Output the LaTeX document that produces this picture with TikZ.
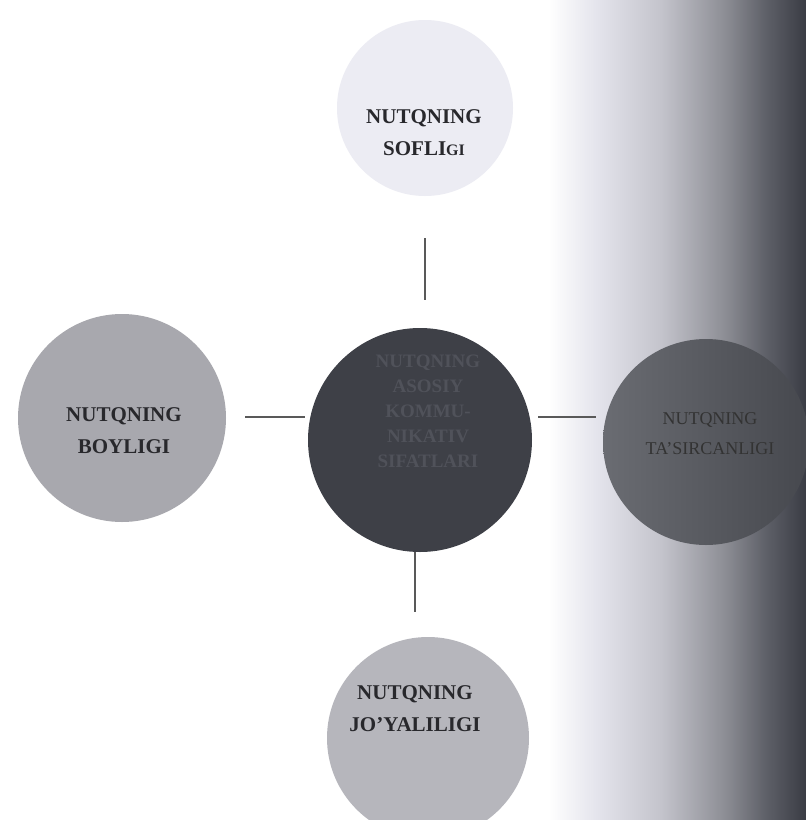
\documentclass[tikz,border=0pt]{standalone}
\usepackage{fontspec}
\setmainfont{Liberation Serif}
\usepackage{tikz}
\usetikzlibrary{calc,positioning}
\usepackage{xcolor}
\definecolor{softgray}{RGB}{236,236,243}
\definecolor{midgray}{RGB}{168,168,174}
\definecolor{lightgray}{RGB}{182,182,188}
\definecolor{coregray}{RGB}{62,64,71}
\definecolor{coretext}{RGB}{80,82,90}
\definecolor{inkgray}{RGB}{40,40,44}
\definecolor{shA}{RGB}{228,228,236}
\definecolor{shB}{RGB}{196,196,204}
\definecolor{shC}{RGB}{140,141,148}
\definecolor{shD}{RGB}{94,96,104}
\definecolor{shE}{RGB}{58,60,68}
\definecolor{tasA}{RGB}{106,108,114}
\definecolor{tasB}{RGB}{70,72,78}
\pgfdeclarehorizontalshading{scanedge}{100bp}{color(0bp)=(white); color(59bp)=(white);
  color(62bp)=(shA); color(66bp)=(shB); color(70bp)=(shC); color(72.5bp)=(shD);
  color(75bp)=(shE); color(100bp)=(shE)}

\begin{document}
\begin{tikzpicture}[
  x=1pt,y=-1pt,
  disc/.style={circle,inner sep=0pt,draw=none},
  lbl/.style={align=center,font=\fontsize{21}{32}\selectfont\bfseries,text=inkgray},
  link/.style={draw=black!65,line width=1.6pt}
]
\useasboundingbox (0,0) rectangle (806,820);
\fill[shading=scanedge] (0,0) rectangle (806,820);

% circles
\node[disc,fill=softgray,minimum size=176pt] (sofl) at (425,108) {};
\node[disc,fill=midgray,minimum size=208pt] (boyl) at (122,418) {};
\node[disc,fill=coregray,minimum size=224pt] (mid) at (420,440) {};
\node[disc,left color=tasA,right color=tasB,minimum size=206pt] (tasir) at (706,442) {};
\node[disc,fill=lightgray,minimum size=202pt] (joya) at (428,738) {};

% texts
\node[lbl] (soflt) at (424,133) {NUTQNING\\SOFLI{\fontsize{16}{32}\selectfont GI}};
\node[lbl] (boylt) at (124,431) {NUTQNING\\BOYLIGI};
\node[lbl,font=\fontsize{18}{30}\selectfont,text=black!80] (tasirt) at (710,434) {NUTQNING\\TA’SIRCANLIGI};
\node[lbl] (joyat) at (415,709) {NUTQNING\\JO’YALILIGI};
\node[lbl,font=\fontsize{19}{25}\selectfont\bfseries,text=coretext] (midt) at (428,411)
  {NUTQNING\\ASOSIY\\KOMMU-\\NIKATIV\\SIFATLARI};

% connectors
\draw[link,shorten <=42pt,shorten >=28pt] (sofl.south) -- (sofl.south |- mid.north);
\draw[link,shorten <=19pt,shorten >=3pt] (boyl.east |- 0,417) -- (mid.west |- 0,417);
\draw[link,shorten <=6pt,shorten >=7pt] (mid.east |- 0,417) -- (tasir.west |- 0,417);
\draw[link,shorten >=25pt] (mid.south -| 415,0) -- (joya.north -| 415,0);
\end{tikzpicture}
\end{document}
